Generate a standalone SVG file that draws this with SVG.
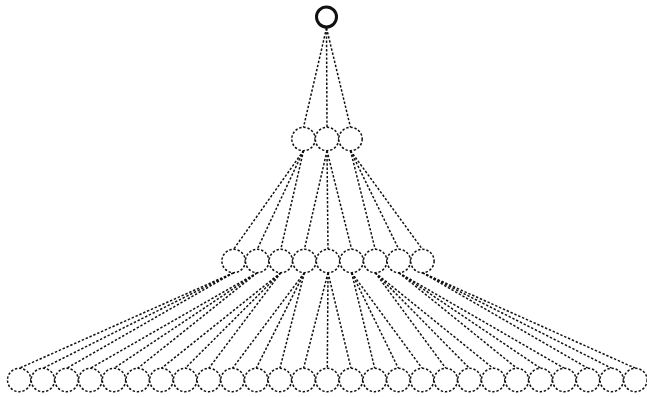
<svg xmlns="http://www.w3.org/2000/svg" width="647" height="397" viewBox="0 0 647 397">
<style>
.e{stroke:#111;stroke-width:1.5;stroke-dasharray:2.4 1.8;fill:none}
.n{stroke:#111;stroke-width:1.5;stroke-dasharray:2.4 1.8;fill:#fff}
.r{stroke:#111;stroke-width:3;fill:#fff}
</style>
<rect width="647" height="397" fill="#fff"/>
<g id="connectors">
<line class="e" x1="326.5" y1="28" x2="303.5" y2="127.3"/>
<line class="e" x1="326.5" y1="28" x2="327" y2="127.3"/>
<line class="e" x1="326.5" y1="28" x2="350.5" y2="127.3"/>
<line class="e" x1="303.5" y1="150.7" x2="233.6" y2="249.3"/>
<line class="e" x1="303.5" y1="150.7" x2="257.2" y2="249.3"/>
<line class="e" x1="303.5" y1="150.7" x2="280.8" y2="249.3"/>
<line class="e" x1="327" y1="150.7" x2="304.4" y2="249.3"/>
<line class="e" x1="327" y1="150.7" x2="328" y2="249.3"/>
<line class="e" x1="327" y1="150.7" x2="351.6" y2="249.3"/>
<line class="e" x1="350.5" y1="150.7" x2="375.2" y2="249.3"/>
<line class="e" x1="350.5" y1="150.7" x2="398.8" y2="249.3"/>
<line class="e" x1="350.5" y1="150.7" x2="422.4" y2="249.3"/>
<line class="e" x1="233.6" y1="272.7" x2="19.2" y2="368.3"/>
<line class="e" x1="233.6" y1="272.7" x2="42.9" y2="368.3"/>
<line class="e" x1="233.6" y1="272.7" x2="66.6" y2="368.3"/>
<line class="e" x1="257.2" y1="272.7" x2="90.3" y2="368.3"/>
<line class="e" x1="257.2" y1="272.7" x2="114" y2="368.3"/>
<line class="e" x1="257.2" y1="272.7" x2="137.7" y2="368.3"/>
<line class="e" x1="280.8" y1="272.7" x2="161.4" y2="368.3"/>
<line class="e" x1="280.8" y1="272.7" x2="185.1" y2="368.3"/>
<line class="e" x1="280.8" y1="272.7" x2="208.8" y2="368.3"/>
<line class="e" x1="304.4" y1="272.7" x2="232.5" y2="368.3"/>
<line class="e" x1="304.4" y1="272.7" x2="256.2" y2="368.3"/>
<line class="e" x1="304.4" y1="272.7" x2="279.9" y2="368.3"/>
<line class="e" x1="328" y1="272.7" x2="303.6" y2="368.3"/>
<line class="e" x1="328" y1="272.7" x2="327.3" y2="368.3"/>
<line class="e" x1="328" y1="272.7" x2="351" y2="368.3"/>
<line class="e" x1="351.6" y1="272.7" x2="374.7" y2="368.3"/>
<line class="e" x1="351.6" y1="272.7" x2="398.4" y2="368.3"/>
<line class="e" x1="351.6" y1="272.7" x2="422.1" y2="368.3"/>
<line class="e" x1="375.2" y1="272.7" x2="445.8" y2="368.3"/>
<line class="e" x1="375.2" y1="272.7" x2="469.5" y2="368.3"/>
<line class="e" x1="375.2" y1="272.7" x2="493.2" y2="368.3"/>
<line class="e" x1="398.8" y1="272.7" x2="516.9" y2="368.3"/>
<line class="e" x1="398.8" y1="272.7" x2="540.6" y2="368.3"/>
<line class="e" x1="398.8" y1="272.7" x2="564.3" y2="368.3"/>
<line class="e" x1="422.4" y1="272.7" x2="588" y2="368.3"/>
<line class="e" x1="422.4" y1="272.7" x2="611.7" y2="368.3"/>
<line class="e" x1="422.4" y1="272.7" x2="635.4" y2="368.3"/>
</g>
<g id="root"><circle class="r" cx="326.5" cy="17" r="10"/></g>
<g id="n1a"><circle class="n" cx="303.5" cy="139" r="11.7"/></g>
<g id="n1b"><circle class="n" cx="327" cy="139" r="11.7"/></g>
<g id="n1c"><circle class="n" cx="350.5" cy="139" r="11.7"/></g>
<g id="n2a"><circle class="n" cx="233.6" cy="261" r="11.7"/></g>
<g id="n2b"><circle class="n" cx="257.2" cy="261" r="11.7"/></g>
<g id="n2c"><circle class="n" cx="280.8" cy="261" r="11.7"/></g>
<g id="n2d"><circle class="n" cx="304.4" cy="261" r="11.7"/></g>
<g id="n2e"><circle class="n" cx="328" cy="261" r="11.7"/></g>
<g id="n2f"><circle class="n" cx="351.6" cy="261" r="11.7"/></g>
<g id="n2g"><circle class="n" cx="375.2" cy="261" r="11.7"/></g>
<g id="n2h"><circle class="n" cx="398.8" cy="261" r="11.7"/></g>
<g id="n2i"><circle class="n" cx="422.4" cy="261" r="11.7"/></g>
<g id="n3-01"><circle class="n" cx="19.2" cy="380" r="11.7"/></g>
<g id="n3-02"><circle class="n" cx="42.9" cy="380" r="11.7"/></g>
<g id="n3-03"><circle class="n" cx="66.6" cy="380" r="11.7"/></g>
<g id="n3-04"><circle class="n" cx="90.3" cy="380" r="11.7"/></g>
<g id="n3-05"><circle class="n" cx="114" cy="380" r="11.7"/></g>
<g id="n3-06"><circle class="n" cx="137.7" cy="380" r="11.7"/></g>
<g id="n3-07"><circle class="n" cx="161.4" cy="380" r="11.7"/></g>
<g id="n3-08"><circle class="n" cx="185.1" cy="380" r="11.7"/></g>
<g id="n3-09"><circle class="n" cx="208.8" cy="380" r="11.7"/></g>
<g id="n3-10"><circle class="n" cx="232.5" cy="380" r="11.7"/></g>
<g id="n3-11"><circle class="n" cx="256.2" cy="380" r="11.7"/></g>
<g id="n3-12"><circle class="n" cx="279.9" cy="380" r="11.7"/></g>
<g id="n3-13"><circle class="n" cx="303.6" cy="380" r="11.7"/></g>
<g id="n3-14"><circle class="n" cx="327.3" cy="380" r="11.7"/></g>
<g id="n3-15"><circle class="n" cx="351" cy="380" r="11.7"/></g>
<g id="n3-16"><circle class="n" cx="374.7" cy="380" r="11.7"/></g>
<g id="n3-17"><circle class="n" cx="398.4" cy="380" r="11.7"/></g>
<g id="n3-18"><circle class="n" cx="422.1" cy="380" r="11.7"/></g>
<g id="n3-19"><circle class="n" cx="445.8" cy="380" r="11.7"/></g>
<g id="n3-20"><circle class="n" cx="469.5" cy="380" r="11.7"/></g>
<g id="n3-21"><circle class="n" cx="493.2" cy="380" r="11.7"/></g>
<g id="n3-22"><circle class="n" cx="516.9" cy="380" r="11.7"/></g>
<g id="n3-23"><circle class="n" cx="540.6" cy="380" r="11.7"/></g>
<g id="n3-24"><circle class="n" cx="564.3" cy="380" r="11.7"/></g>
<g id="n3-25"><circle class="n" cx="588" cy="380" r="11.7"/></g>
<g id="n3-26"><circle class="n" cx="611.7" cy="380" r="11.7"/></g>
<g id="n3-27"><circle class="n" cx="635.4" cy="380" r="11.7"/></g>
</svg>
